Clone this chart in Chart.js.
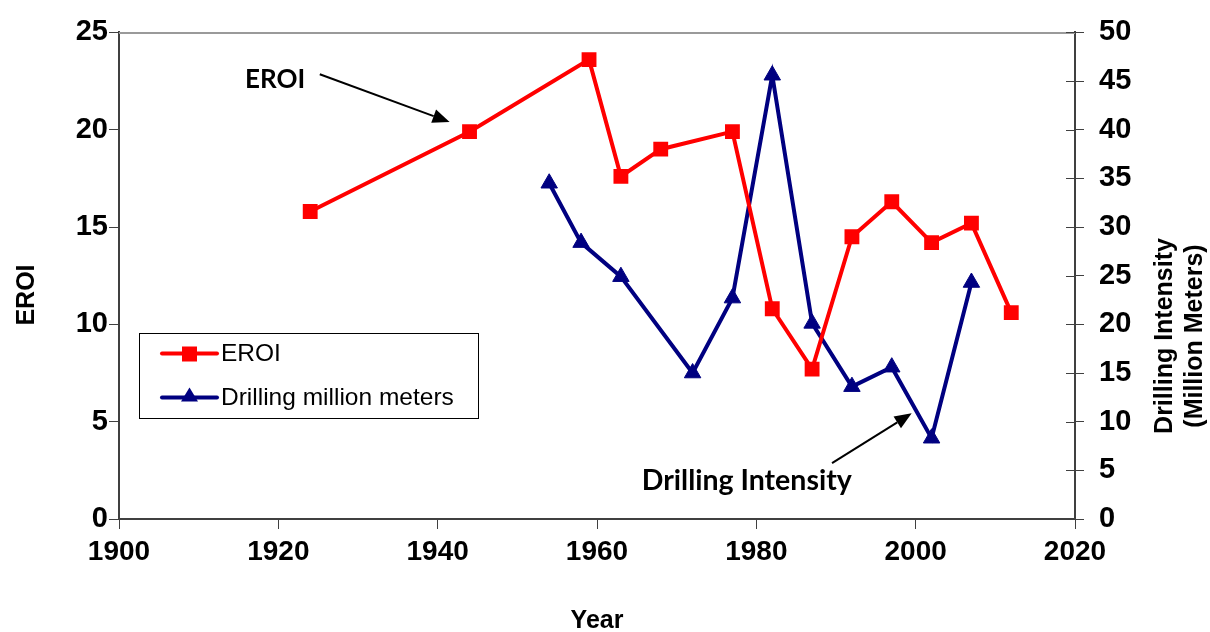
<!DOCTYPE html>
<html>
<head>
<meta charset="utf-8">
<script src="https://cdn.jsdelivr.net/npm/chart.js@4.4.1/dist/chart.umd.min.js"></script>
<style>
  html, body { margin: 0; padding: 0; background: #fff; }
  #contenedor { width: 1210px; height: 632px; }
</style>
</head>
<body>
<div id="contenedor"><canvas id="grafico"></canvas></div>
<script>
// Datos
const eroiYears = [1924, 1944, 1959, 1963, 1968, 1977, 1982, 1987, 1992, 1997, 2002, 2007, 2012];
const eroiValues = [15.8, 19.9, 23.6, 17.6, 19.0, 19.9, 10.8, 7.7, 14.5, 16.3, 14.2, 15.2, 10.6];
const drillYears = [1954, 1958, 1963, 1972, 1977, 1982, 1987, 1992, 1997, 2002, 2007];
const drillValues = [34.5, 28.4, 24.9, 15.0, 22.7, 45.6, 20.1, 13.6, 15.6, 8.3, 24.3];

const xTicks = [1900, 1920, 1940, 1960, 1980, 2000, 2020];
const leftTicks = [0, 5, 10, 15, 20, 25];
const rightTicks = [0, 5, 10, 15, 20, 25, 30, 35, 40, 45, 50];

const seriesLabels = ['EROI', 'Drilling million meters'];
const leftTitle = 'EROI';
const rightTitle = ['Drilling Intensity', '(Million Meters)'];

// Anotaciones (en coordenadas de los ejes x / yLeft)
const notas = [
    { text: 'EROI', size: 26, x: 1919.6, y: 22.6, from: [1925.2, 22.85], to: [1941.5, 20.4] },
    { text: 'Drilling Intensity', size: 28.5, x: 1978.8, y: 1.95, from: [1989.5, 2.87], to: [1999.5, 5.43] }
];

const fuenteEje = 'Liberation Sans, Arial, sans-serif';
const fuenteNota = 'Lato, Carlito, sans-serif';

function dibujarFlecha(ctx, x1, y1, x2, y2) {
    const ang = Math.atan2(y2 - y1, x2 - x1);
    const largo = 17, ancho = 7;
    const bx = x2 - Math.cos(ang) * largo;
    const by = y2 - Math.sin(ang) * largo;
    ctx.beginPath();
    ctx.moveTo(x1, y1);
    ctx.lineTo(bx, by);
    ctx.strokeStyle = '#000';
    ctx.lineWidth = 2;
    ctx.stroke();
    ctx.beginPath();
    ctx.moveTo(x2, y2);
    ctx.lineTo(bx - Math.sin(ang) * ancho, by + Math.cos(ang) * ancho);
    ctx.lineTo(bx + Math.sin(ang) * ancho, by - Math.cos(ang) * ancho);
    ctx.closePath();
    ctx.fillStyle = '#000';
    ctx.fill();
}

function tituloVertical(ctx, lineas, x, y) {
    ctx.save();
    ctx.translate(x, y);
    ctx.rotate(-Math.PI / 2);
    ctx.fillStyle = '#000';
    ctx.font = 'bold 25px ' + fuenteEje;
    ctx.textAlign = 'center';
    ctx.textBaseline = 'middle';
    lineas.forEach((linea, i) => ctx.fillText(linea, 0, i * 30));
    ctx.restore();
}

const extrasPlugin = {
    id: 'extras',
    afterDraw(chart) {
        const ctx = chart.ctx;
        const area = chart.chartArea;
        const xs = chart.scales.x;
        const yl = chart.scales.yLeft;
        const yr = chart.scales.yRight;

        ctx.save();
        // linea superior del marco
        ctx.beginPath();
        ctx.moveTo(area.left, area.top + 0.5);
        ctx.lineTo(area.right, area.top + 0.5);
        ctx.strokeStyle = '#9a9a9a';
        ctx.lineWidth = 2;
        ctx.stroke();

        // marcas del eje derecho hacia dentro
        ctx.beginPath();
        yr.ticks.forEach(t => {
            const py = Math.round(yr.getPixelForValue(t.value)) + 0.5;
            ctx.moveTo(area.right - 9, py);
            ctx.lineTo(area.right, py);
        });
        ctx.strokeStyle = '#404040';
        ctx.lineWidth = 1;
        ctx.stroke();

        // titulos de los ejes verticales
        tituloVertical(ctx, [leftTitle], 27, 295);
        tituloVertical(ctx, rightTitle, 1165, 336);

        // leyenda dentro del area
        const caja = { x: 139.5, y: 333.5, w: 339, h: 85 };
        ctx.fillStyle = '#fff';
        ctx.fillRect(caja.x, caja.y, caja.w, caja.h);
        ctx.strokeStyle = '#000';
        ctx.lineWidth = 1;
        ctx.strokeRect(caja.x, caja.y, caja.w, caja.h);
        chart.data.datasets.forEach((ds, i) => {
            const cy = caja.y + 20 + i * 44;
            ctx.beginPath();
            ctx.moveTo(162, cy);
            ctx.lineTo(217, cy);
            ctx.strokeStyle = ds.borderColor;
            ctx.lineWidth = 4;
            ctx.lineCap = 'round';
            ctx.stroke();
            ctx.lineCap = 'butt';
            ctx.fillStyle = ds.borderColor;
            if (ds.pointStyle === 'rect') {
                ctx.fillRect(182, cy - 7, 15, 15);
            } else {
                ctx.beginPath();
                ctx.moveTo(189.5, cy - 10);
                ctx.lineTo(198, cy + 4);
                ctx.lineTo(181, cy + 4);
                ctx.closePath();
                ctx.fill();
            }
            ctx.fillStyle = '#000';
            ctx.font = '24.5px ' + fuenteEje;
            ctx.textAlign = 'left';
            ctx.textBaseline = 'middle';
            ctx.fillText(ds.label, 221, cy + 1);
        });

        // anotaciones con flecha
        notas.forEach(n => {
            ctx.fillStyle = '#000';
            ctx.font = 'bold ' + n.size + 'px ' + fuenteNota;
            ctx.textAlign = 'center';
            ctx.textBaseline = 'middle';
            ctx.fillText(n.text, xs.getPixelForValue(n.x), yl.getPixelForValue(n.y));
            dibujarFlecha(ctx,
                xs.getPixelForValue(n.from[0]), yl.getPixelForValue(n.from[1]),
                xs.getPixelForValue(n.to[0]), yl.getPixelForValue(n.to[1]));
        });
        ctx.restore();
    }
};

function inicializarGrafico() {
    const ctx = document.getElementById('grafico').getContext('2d');

    new Chart(ctx, {
        type: 'scatter',
        data: {
            datasets: [{
                    label: seriesLabels[0],
                    data: eroiYears.map((a, i) => ({ x: a, y: eroiValues[i] })),
                    showLine: true,
                    borderColor: '#ff0000',
                    backgroundColor: '#ff0000',
                    borderWidth: 4,
                    pointStyle: 'rect',
                    pointRadius: 10.5,
                    pointBorderWidth: 0,
                    yAxisID: 'yLeft'
                },
                {
                    label: seriesLabels[1],
                    data: drillYears.map((a, i) => ({ x: a, y: drillValues[i] })),
                    showLine: true,
                    borderColor: '#000080',
                    backgroundColor: '#000080',
                    borderWidth: 4,
                    pointStyle: 'triangle',
                    pointRadius: 9.5,
                    pointBorderWidth: 1,
                    pointBorderColor: '#000080',
                    yAxisID: 'yRight'
                }
            ]
        },
        options: {
            responsive: true,
            maintainAspectRatio: false,
            animation: false,
            layout: { padding: { top: 31, left: 0, right: 0, bottom: 0 } },
            plugins: {
                legend: { display: false },
                tooltip: { enabled: false }
            },
            scales: {
                x: {
                    type: 'linear',
                    min: xTicks[0],
                    max: xTicks[xTicks.length - 1],
                    afterBuildTicks: s => { s.ticks = xTicks.map(v => ({ value: v })); },
                    afterFit: s => { s.height = 113; },
                    border: { color: '#404040', width: 2 },
                    grid: { drawOnChartArea: false, tickLength: 10, color: '#404040' },
                    ticks: {
                        color: '#000',
                        padding: 6,
                        maxRotation: 0,
                        font: { family: fuenteEje, size: 28, weight: 'bold' },
                        callback: v => String(v)
                    },
                    title: {
                        display: true,
                        text: 'Year',
                        color: '#000',
                        padding: { top: 0, bottom: -2 },
                        font: { family: fuenteEje, size: 25, weight: 'bold', lineHeight: 1 }
                    }
                },
                yLeft: {
                    type: 'linear',
                    position: 'left',
                    min: 0,
                    max: 25,
                    afterBuildTicks: s => { s.ticks = leftTicks.map(v => ({ value: v })); },
                    afterFit: s => { s.width = 119; },
                    border: { color: '#404040', width: 2 },
                    grid: { drawOnChartArea: false, tickLength: 10, color: '#404040' },
                    ticks: {
                        color: '#000',
                        padding: 1,
                        font: { family: fuenteEje, size: 29, weight: 'bold' }
                    }
                },
                yRight: {
                    type: 'linear',
                    position: 'right',
                    min: 0,
                    max: 50,
                    afterBuildTicks: s => { s.ticks = rightTicks.map(v => ({ value: v })); },
                    afterFit: s => { s.width = 135; },
                    border: { color: '#404040', width: 2 },
                    grid: { drawOnChartArea: false, tickLength: 9, color: '#404040' },
                    ticks: {
                        color: '#000',
                        padding: 15,
                        font: { family: fuenteEje, size: 29, weight: 'bold' }
                    }
                }
            }
        },
        plugins: [extrasPlugin]
    });
}

document.addEventListener('DOMContentLoaded', () => {
    inicializarGrafico();
});
</script>
</body>
</html>
